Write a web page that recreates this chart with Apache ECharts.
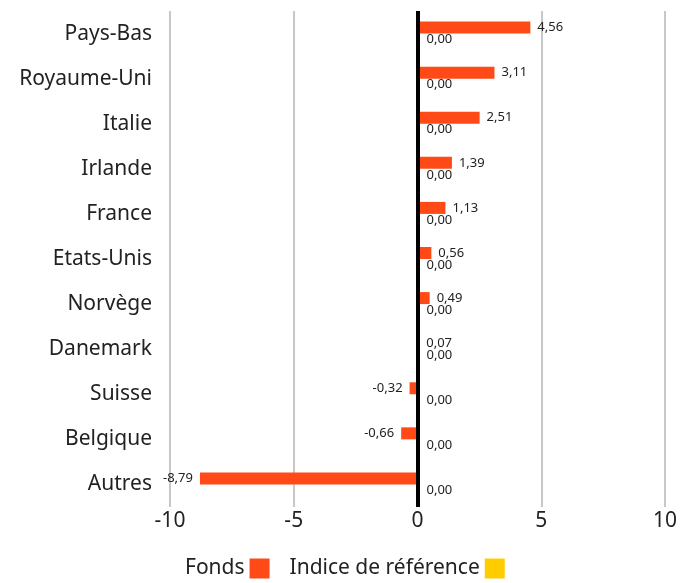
<!DOCTYPE html>
<html><head><meta charset="utf-8">
<script src="https://cdn.jsdelivr.net/npm/echarts@6/dist/echarts.min.js"></script>
<style>html,body{margin:0;padding:0;background:#fff}#c{width:692px;height:583px}</style>
</head><body><div id="c"></div>
<script>
const categories = ['Pays-Bas','Royaume-Uni','Italie','Irlande','France','Etats-Unis','Norvège','Danemark','Suisse','Belgique','Autres'];
const fonds = [4.56, 3.11, 2.51, 1.39, 1.13, 0.56, 0.49, 0.07, -0.32, -0.66, -8.79];
const indice = [0, 0, 0, 0, 0, 0, 0, 0, 0, 0, 0];
const seriesNames = ['Fonds', 'Indice de référence'];

const FONT = 'Noto Sans';
const fmt = p => p.value.toFixed(2).replace('.', ',');
const chart = echarts.init(document.getElementById('c'), null, {renderer: 'canvas'});
chart.setOption({
  animation: false,
  textStyle: {fontFamily: FONT},
  grid: {left: 170, right: 27, top: 11, bottom: 76, containLabel: false},
  legend: {
    data: seriesNames,
    left: 180, top: 553,
    align: 'right',
    itemWidth: 20, itemHeight: 20, itemGap: 20,
    icon: 'rect',
    textStyle: {fontSize: 21, color: '#222', fontFamily: FONT}
  },
  xAxis: {
    type: 'value', min: -10, max: 10, interval: 5,
    axisLine: {show: false}, axisTick: {show: false},
    splitLine: {show: true, lineStyle: {color: '#c8c8c8', width: 2}},
    axisLabel: {fontSize: 21, color: '#222', margin: 4, fontFamily: FONT}
  },
  yAxis: {
    type: 'category', inverse: true, data: categories,
    axisLine: {show: false}, axisTick: {show: false},
    axisLabel: {fontSize: 21, color: '#222', margin: 18, fontFamily: FONT}
  },
  series: [
    {
      name: seriesNames[0], type: 'bar', data: fonds, barWidth: 12, barGap: '0%',
      itemStyle: {color: '#ff4a17'},
      label: {show: true, position: 'outside', distance: 7, fontSize: 13, color: '#222', formatter: fmt, fontFamily: FONT},
      markLine: {
        silent: true, symbol: 'none', label: {show: false},
        lineStyle: {color: '#000', width: 4, type: 'solid'},
        data: [{xAxis: 0}]
      }
    },
    {
      name: seriesNames[1], type: 'bar', data: indice, barWidth: 12,
      itemStyle: {color: '#ffcc00'},
      label: {show: true, position: 'right', distance: 9, fontSize: 13, color: '#222', formatter: fmt, fontFamily: FONT}
    }
  ]
});
</script></body></html>
